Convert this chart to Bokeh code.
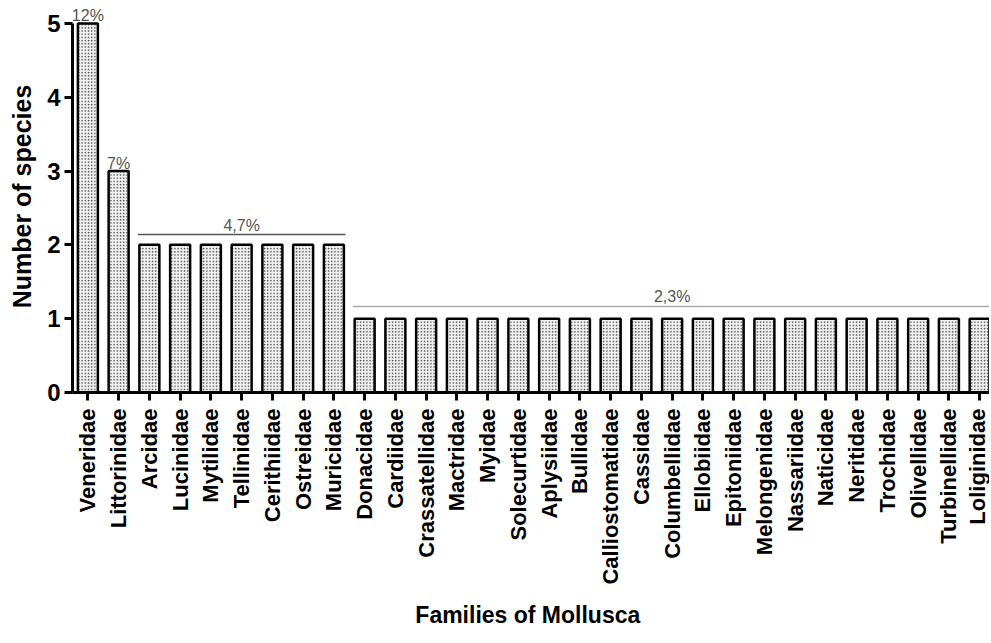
import numpy as np
from bokeh.plotting import figure
from bokeh.models import FixedTicker, ColumnDataSource, Range1d
from bokeh.embed import file_html
from bokeh.resources import INLINE
from bokeh.core.properties import value

# ---------------- data ----------------
families = [
    "Veneridae", "Littorinidae", "Arcidae", "Lucinidae", "Mytilidae",
    "Tellinidae", "Cerithiidae", "Ostreidae", "Muricidae", "Donacidae",
    "Cardiidae", "Crassatellidae", "Mactridae", "Myidae", "Solecurtidae",
    "Aplysiidae", "Bullidae", "Calliostomatidae", "Cassidae", "Columbellidae",
    "Ellobiidae", "Epitoniidae", "Melongenidae", "Nassariidae", "Naticidae",
    "Neritidae", "Trochidae", "Olivellidae", "Turbinellidae", "Loliginidae",
]
species = [5, 3, 2, 2, 2, 2, 2, 2, 2, 1,
           1, 1, 1, 1, 1, 1, 1, 1, 1, 1,
           1, 1, 1, 1, 1, 1, 1, 1, 1, 1]
single_labels = ["12%", "7%"]          # for bars 0 and 1
group_labels = ["4,7%", "2,3%"]
group_first = [2, 9]
group_last = [8, 29]

y_ticks = [0, 1, 2, 3, 4, 5]

# ---------------- figure ----------------
FONT = "Liberation Sans"
BAR_W = 0.65
n = len(families)
x = list(range(n))
Y_END = 5.31

p = figure(frame_width=917, frame_height=392,
           output_backend="svg", toolbar_location=None,
           x_range=Range1d(-0.5, n - 0.68), y_range=Range1d(0, Y_END),
           min_border_left=72, min_border_right=0, min_border_top=0,
           min_border_bottom=220)
p.outline_line_color = None
p.xgrid.visible = False
p.ygrid.visible = False
p.background_fill_color = "white"
p.border_fill_color = "white"

src = ColumnDataSource(dict(x=x, top=species, name=families))
p.vbar(x="x", top="top", bottom=0, width=BAR_W, source=src,
       fill_color="#f2f2f2", line_color="black", line_width=2.5,
       hatch_pattern="dot", hatch_color="#484848", hatch_scale=3.2,
       hatch_weight=1.2)

# single-bar percentage labels
p.text(x=x[:len(single_labels)], y=species[:len(single_labels)],
       text=single_labels, text_font=value(FONT), text_font_size="16px",
       text_color="#555555", text_align="center", text_baseline="alphabetic",
       y_offset=-8)

# group lines + labels
g_x0, g_x1, g_y, g_xm, g_col, g_off = [], [], [], [], [], []
cols = ["#555555", "#aaaaaa"]
for i, (a, b) in enumerate(zip(group_first, group_last)):
    g_x0.append(a - BAR_W / 2 - 0.05)
    g_x1.append(b + BAR_W / 2 + (0.05 if b < n - 1 else 0.6))
    g_y.append(species[a] + (0.14 if i == 0 else 0.165))
    g_xm.append((a + b) / 2)
    g_col.append(cols[i])
    g_off.append(-9 if i == 0 else -10)
p.segment(x0=g_x0, x1=g_x1, y0=g_y, y1=g_y, line_color=g_col, line_width=1.6)
p.text(x=g_xm, y=g_y, text=group_labels, text_font=value(FONT),
       text_font_size="16px", text_color="#555555", text_align="center",
       text_baseline="alphabetic", y_offset=g_off)

# ---------------- axes ----------------
ya = p.yaxis[0]
ya.ticker = FixedTicker(ticks=y_ticks)
ya.bounds = (0, 5)
ya.axis_line_width = 3
ya.major_tick_line_width = 3
ya.major_tick_out = 8
ya.major_tick_in = 0
ya.minor_tick_line_color = None
ya.major_label_text_font = FONT
ya.major_label_text_font_size = "24px"
ya.major_label_text_font_style = "bold"
ya.major_label_text_color = "black"
ya.major_label_standoff = 4
ya.axis_label = "Number of species"
ya.axis_label_text_font = FONT
ya.axis_label_text_font_size = "25px"
ya.axis_label_text_font_style = "bold"
ya.axis_label_text_color = "black"
ya.axis_label_standoff = 8

xa = p.xaxis[0]
xa.ticker = FixedTicker(ticks=x)
xa.major_label_overrides = {i: f for i, f in enumerate(families)}
xa.major_label_orientation = np.pi / 2
xa.axis_line_width = 3
xa.major_tick_line_width = 3
xa.major_tick_out = 8
xa.major_tick_in = 0
xa.minor_tick_line_color = None
xa.major_label_text_font = FONT
xa.major_label_text_font_size = "22px"
xa.major_label_text_font_style = "bold"
xa.major_label_text_color = "black"
xa.major_label_standoff = 8
xa.axis_label = "Families of  Mollusca"
xa.axis_label_text_font = FONT
xa.axis_label_text_font_size = "23px"
xa.axis_label_text_font_style = "bold"
xa.axis_label_text_color = "black"
xa.axis_label_standoff = 14

open("out.html", "w").write(file_html(p, INLINE))
